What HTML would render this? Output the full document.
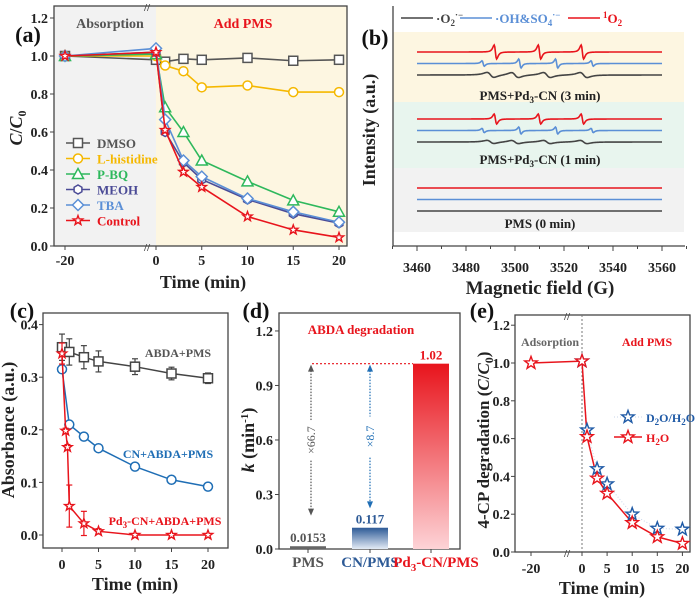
<!DOCTYPE html>
<html><head><meta charset="utf-8"><style>
html,body{margin:0;padding:0;background:#fff}
svg{display:block;font-family:"Liberation Serif",serif;font-weight:bold}
</style></head><body>
<svg id="fig" width="700" height="604" viewBox="0 0 700 604" xmlns="http://www.w3.org/2000/svg">
<defs>
<linearGradient id="gCN" x1="0" y1="0" x2="0" y2="1"><stop offset="0" stop-color="#2d5a96"/><stop offset="1" stop-color="#e3ebf5"/></linearGradient>
<linearGradient id="gPd" x1="0" y1="0" x2="0" y2="1"><stop offset="0" stop-color="#e8141c"/><stop offset="1" stop-color="#fdd3d6"/></linearGradient>
</defs>
</svg>
<script>
// ---------- DATA ----------
const aTimes=[-20,0,1,3,5,10,15,20];
const aNames=["DMSO","L-histidine","P-BQ","MEOH","TBA","Control"];
const aDMSO=[1,0.98,0.97,0.985,0.98,0.99,0.975,0.98];
const aLhis=[1,1.0,0.95,0.92,0.835,0.845,0.81,0.81];
const aPBQ=[1,1.01,0.73,0.6,0.45,0.34,0.24,0.18];
const aMEOH=[1,1.02,0.6,0.44,0.35,0.245,0.17,0.12];
const aTBA=[1,1.04,0.665,0.45,0.365,0.25,0.18,0.125];
const aCtrl=[1,1.02,0.61,0.39,0.31,0.155,0.085,0.045];
const aYTicks=[0,0.2,0.4,0.6,0.8,1.0,1.2];
const aXTicks=[-20,0,5,10,15,20];

const bXTicks=[3460,3480,3500,3520,3540,3560];
const bRedPeaks=[3492,3510,3527.5];
const bBluePeaks=[3487,3502,3517,3531.5];
const bBluePk=[0.6,1,1,0.6];
const bBlackPeaks=[3490,3500,3513,3528];
const bAmp3=[7,4.5,2.5];
const bAmp1=[5,3.5,1.6];

const cTimes=[0,1,3,5,10,15,20];
const cABDA=[0.357,0.348,0.338,0.33,0.32,0.307,0.298];
const cABDAerr=[0.025,0.025,0.022,0.02,0.015,0.012,0.01];
const cCN=[0.315,0.21,0.187,0.165,0.13,0.105,0.092];
const cPdTimes=[0,0.5,0.75,1,3,5,10,15,20];
const cPd=[0.345,0.198,0.167,0.055,0.022,0.007,0,0,0];
const cPdErr=[0.02,0.005,0.005,0.04,0.023,0.005,0,0,0];
const cYTicks=[0,0.1,0.2,0.3,0.4];
const cXTicks=[0,5,10,15,20];

const dCats=["PMS","CN/PMS","Pd3-CN/PMS"];
const dVals=[0.0153,0.117,1.02];
const dLabels=["0.0153","0.117","1.02"];
const dYTicks=[0,0.3,0.6,0.9,1.2];
const dArrowEnds=[0.2,0.24];

const eTimes=[-20,0,1,3,5,10,15,20];
const eH2O=[1,1.01,0.61,0.39,0.31,0.155,0.08,0.045];
const eD2O=[null,1.01,0.645,0.44,0.36,0.2,0.125,0.12];
const eYTicks=[0,0.2,0.4,0.6,0.8,1.0,1.2];
const eXTicks=[-20,0,5,10,15,20];

// ---------- helpers ----------
const S=document.getElementById('fig');
const NS="http://www.w3.org/2000/svg";
function mk(tag,attrs,parent){const e=document.createElementNS(NS,tag);for(const k in attrs)e.setAttribute(k,attrs[k]);(parent||S).appendChild(e);return e;}
function txt(x,y,s,size,fill,anchor,extra){const t=mk('text',Object.assign({x:x,y:y,'font-size':size,fill:fill||'#222','text-anchor':anchor||'middle'},extra||{}));t.innerHTML=s;return t;}
function marker(type,x,y,col,r){
 r=r||5;let e;
 if(type==='sq')e=mk('rect',{x:x-r,y:y-r,width:2*r,height:2*r,fill:'#fff',stroke:col,'stroke-width':1.5});
 else if(type==='ci')e=mk('circle',{cx:x,cy:y,r:r,fill:'#fff',stroke:col,'stroke-width':1.5});
 else if(type==='tr')e=mk('polygon',{points:`${x},${y-r-1} ${x+r+1},${y+r} ${x-r-1},${y+r}`,fill:'#fff',stroke:col,'stroke-width':1.5});
 else if(type==='hx'){let p=[];for(let i=0;i<6;i++){const a=Math.PI/3*i+Math.PI/6;p.push((x+r*Math.cos(a))+','+(y+r*Math.sin(a)));}e=mk('polygon',{points:p.join(' '),fill:'#fff',stroke:col,'stroke-width':1.5});}
 else if(type==='di')e=mk('polygon',{points:`${x},${y-r-1} ${x+r+1},${y} ${x},${y+r+1} ${x-r-1},${y}`,fill:'#fff',stroke:col,'stroke-width':1.5});
 else {let p=[];for(let i=0;i<10;i++){const rr=i%2?r*0.45:r*1.1;const a=-Math.PI/2+Math.PI/5*i;p.push((x+rr*Math.cos(a))+','+(y+rr*Math.sin(a)));}e=mk('polygon',{points:p.join(' '),fill:'#fff',stroke:col,'stroke-width':1.4});}
 return e;
}
function poly(pts,col,w,extra){return mk('polyline',Object.assign({points:pts.map(p=>p.join(',')).join(' '),fill:'none',stroke:col,'stroke-width':w||1.5},extra||{}));}
function frame(x1,y1,x2,y2){return mk('rect',{x:x1,y:y1,width:x2-x1,height:y2-y1,fill:'none',stroke:'#444','stroke-width':1.3});}

// ================= PANEL A =================
const xa=t=>t<0?65+(t+20)/20*91:156+t*9.15;
const ya=v=>246-v*190;
let e;
e=mk('rect',{x:54,y:6,width:102,height:240,fill:'#f2f2f2'});


e=mk('rect',{x:156,y:6,width:191,height:240,fill:'#fdf6e1'});


e=frame(54,6,347,246);


aYTicks.forEach(v=>{mk('line',{x1:50,x2:54,y1:ya(v),y2:ya(v),stroke:'#444'});
 e=txt(48,ya(v)+5,v.toFixed(1),14,'#222','end');
 
 });
aXTicks.forEach(v=>{mk('line',{x1:xa(v),x2:xa(v),y1:246,y2:250,stroke:'#444'});
 e=txt(xa(v),265,String(v),14);
 
 });
txt(147,11,'//',11,'#444');txt(147,251,'//',11,'#444');
e=txt(203,288,'Time (min)',18);


e=txt(0,0,'<tspan font-style="italic">C</tspan>/<tspan font-style="italic">C</tspan><tspan font-size="12" dy="4">0</tspan>',18,'#222','middle',{transform:'translate(22,128) rotate(-90)'});


e=txt(110,28,'Absorption',14,'#555');


e=txt(243,28,'Add PMS',14,'#e8141c');


e=txt(28,42,'(a)',22,'#111');


const aSeries=[aDMSO,aLhis,aPBQ,aMEOH,aTBA,aCtrl];
const aCols=['#555555','#f5b800','#2eb85c','#4b4b96','#5b8fd6','#e8141c'];
const aMk=['sq','ci','tr','hx','di','st'];
aSeries.forEach((s,i)=>{
 const pts=aTimes.map((t,j)=>[xa(t),ya(s[j])]);
 e=poly(pts,aCols[i],1.6);
 
 
 pts.forEach(p=>{e=marker(aMk[i],p[0],p[1],aCols[i],4.5);
  
  });
 const ly=143+i*15.5;
 mk('line',{x1:66,x2:90,y1:ly,y2:ly,stroke:aCols[i],'stroke-width':1.6});
 marker(aMk[i],78,ly,aCols[i],4.5);
 e=txt(97,ly+5,aNames[i],13,i==0?'#555':aCols[i],'start');
 
 
});

// ================= PANEL B =================
const xb=g=>417+(g-3460)*2.45;
[[32,102,'#fdf6e1'],[102,168,'#e8f5ee'],[168,232,'#f2f2f2']].forEach((b,i)=>{
 e=mk('rect',{x:393,y:b[0],width:291,height:b[1]-b[0],fill:b[2]});
 
 });
mk('line',{x1:393,y1:6,x2:393,y2:246,stroke:'#444','stroke-width':1.3});
mk('line',{x1:393,y1:246,x2:685,y2:246,stroke:'#444','stroke-width':1.3});
bXTicks.forEach(v=>{mk('line',{x1:xb(v),x2:xb(v),y1:246,y2:251,stroke:'#444'});
 e=txt(xb(v),272,String(v),14);
 
 });
for(let g=3450;g<=3570;g+=10){if(g%20)mk('line',{x1:xb(g),x2:xb(g),y1:246,y2:249,stroke:'#444'});}
e=txt(540,294,'Magnetic field (G)',19);


e=txt(0,0,'Intensity (a.u.)',18,'#222','middle',{transform:'translate(375,130) rotate(-90)'});


e=txt(375,45,'(b)',22,'#111');


function lor(g,c,w){const u=(g-c)/w;return -u/Math.pow(1+u*u,2)/0.325;}
function trace(base,col,peaks,amps,w){
 const pts=[];for(let g=3460;g<=3560;g+=0.25){let v=0;peaks.forEach((c,k)=>v+=amps[k]*lor(g,c,w));pts.push([xb(g),base-v]);}
 return poly(pts,col,1.6);}
function spectrum(yRed,amps,label,ly,tag){
 e=trace(yRed,'#e8141c',bRedPeaks,bRedPeaks.map(()=>amps[0]),0.9);
 
 
 e=trace(yRed+11.5,'#5b8fd6',bBluePeaks,bBluePk.map(p=>p*amps[1]),0.8);
 
 
 e=trace(yRed+23,'#444',bBlackPeaks,bBlackPeaks.map(()=>amps[2]),2.5);
 
 
 e=txt(540,ly,label,13);
 
 
}
spectrum(52,bAmp3,'PMS+Pd<tspan font-size="9" dy="3">3</tspan><tspan dy="-3">-CN (3 min)</tspan>',100,'3min');
spectrum(119,bAmp1,'PMS+Pd<tspan font-size="9" dy="3">3</tspan><tspan dy="-3">-CN (1 min)</tspan>',164,'1min');
spectrum(188,[0,0,0],'PMS (0 min)',228,'0min');
[[433,'#444','·O<tspan font-size="9" dy="3">2</tspan><tspan font-size="9" dy="-8">·−</tspan>',458],
 [492,'#5b8fd6','·OH&amp;SO<tspan font-size="9" dy="3">4</tspan><tspan font-size="9" dy="-8">·−</tspan>',529],
 [600,'#e8141c','<tspan font-size="9" dy="-5">1</tspan><tspan dy="5">O</tspan><tspan font-size="9" dy="3">2</tspan>',627]].forEach(l=>{
 mk('line',{x1:l[0]-32,x2:l[0],y1:18,y2:18,stroke:l[1],'stroke-width':1.6});
 e=txt(l[0]+3,23,l[2],13,l[1],'start');
 
 });

// ================= PANEL C =================
const xc=t=>62+t*7.3;
const yc=v=>535-v*526;
e=frame(43,313,228,548);


cYTicks.forEach(v=>{mk('line',{x1:39,x2:43,y1:yc(v),y2:yc(v),stroke:'#444'});
 e=txt(38,yc(v)+5,v.toFixed(1),14,'#222','end');
 
 });
cXTicks.forEach(v=>{mk('line',{x1:xc(v),x2:xc(v),y1:548,y2:552,stroke:'#444'});
 e=txt(xc(v),569,String(v),14);
 
 });
e=txt(135,590,'Time (min)',18);


e=txt(0,0,'Absorbance (a.u.)',18,'#222','middle',{transform:'translate(14,430) rotate(-90)'});


e=txt(22,318,'(c)',22,'#111');


function errbar(x,y1,y2,col){mk('line',{x1:x,x2:x,y1:y1,y2:y2,stroke:col,'stroke-width':1.2});mk('line',{x1:x-3,x2:x+3,y1:y1,y2:y1,stroke:col,'stroke-width':1.2});mk('line',{x1:x-3,x2:x+3,y1:y2,y2:y2,stroke:col,'stroke-width':1.2});}
function cSeries(ts,vs,errs,col,mt,name){
 const pts=ts.map((t,j)=>[xc(t),yc(vs[j])]);
 e=poly(pts,col,1.5);
 
 
 pts.forEach((p,j)=>{if(errs&&errs[j])errbar(p[0],yc(vs[j]+errs[j]),yc(vs[j]-errs[j]),col);
  e=marker(mt,p[0],p[1],col,4.5);
  
  });
}
cSeries(cTimes,cABDA,cABDAerr,'#444','sq','abda-pms');
cSeries(cTimes,cCN,null,'#1f6eb5','ci','cn-abda-pms');
cSeries(cPdTimes,cPd,cPdErr,'#e8141c','st','pd3cn-abda-pms');
e=txt(178,357,'ABDA+PMS',12,'#555');


e=txt(168,458,'CN+ABDA+PMS',12,'#1f6eb5');


e=txt(165,525,'Pd<tspan font-size="9" dy="3">3</tspan><tspan dy="-3">-CN+ABDA+PMS</tspan>',12,'#e8141c');



// ================= PANEL D =================
const yd=v=>549-v*181.7;
const dCx=[308,370,431];
const dFill=['#666','url(#gCN)','url(#gPd)'];
const dCol=['#555','#2d5a96','#e8141c'];
e=frame(279,313,460,549);


dYTicks.forEach(v=>{mk('line',{x1:275,x2:279,y1:yd(v),y2:yd(v),stroke:'#444'});
 e=txt(273,yd(v)+5,v.toFixed(1),14,'#222','end');
 
 });
dVals.forEach((v,i)=>{
 e=mk('rect',{x:dCx[i]-18,y:yd(v),width:36,height:549-yd(v),fill:dFill[i]});
 
 
 e=txt(dCx[i],yd(v)-4,dLabels[i],13,dCol[i]);
 
 
 mk('line',{x1:dCx[i],x2:dCx[i],y1:549,y2:553,stroke:'#444'});
});
['PMS','CN/PMS','Pd<tspan font-size="11" dy="4">3</tspan><tspan dy="-4">-CN/PMS</tspan>'].forEach((s,i)=>{
 e=txt(dCx[i]+(i==2?5:0),567,s,15,dCol[i]);
 
 });
e=txt(0,0,'<tspan font-style="italic">k</tspan> (min<tspan font-size="11" dy="-6">-1</tspan><tspan dy="6">)</tspan>',18,'#222','middle',{transform:'translate(254,440) rotate(-90)'});


e=txt(256,318,'(d)',22,'#111');


e=txt(361,334,'ABDA degradation',13,'#e8141c');


mk('line',{x1:312,x2:dCx[2]-18,y1:yd(dVals[2]),y2:yd(dVals[2]),stroke:'#e8141c','stroke-width':1.2,'stroke-dasharray':'2,2'});
[[311,dArrowEnds[0],'#555','×66.7'],[370,dArrowEnds[1],'#1f6eb5','×8.7']].forEach((a,i)=>{
 const yt=yd(dVals[2])+4,yb=yd(a[1]);
 e=mk('line',{x1:a[0],x2:a[0],y1:yt,y2:yb,stroke:a[2],'stroke-width':1.2,'stroke-dasharray':'1.5,1.5'});
 
 
 mk('polygon',{points:`${a[0]},${yt-3} ${a[0]-3},${yt+4} ${a[0]+3},${yt+4}`,fill:a[2]});
 mk('polygon',{points:`${a[0]},${yb+3} ${a[0]-3},${yb-4} ${a[0]+3},${yb-4}`,fill:a[2]});
 const my=(yt+yb)/2;
 mk('rect',{x:a[0]-7,y:my-20,width:14,height:40,fill:'#fff'});
 e=txt(0,0,a[3],12,a[2],'middle',{transform:`translate(${a[0]+4},${my}) rotate(-90)`,'font-weight':'normal'});
 
 
});

// ================= PANEL E =================
const xe=t=>t<0?531+(t+20)*2.55:582+t*5.02;
const ye=v=>552-v*189;
e=frame(515,315,690,552);


mk('line',{x1:582,x2:582,y1:315,y2:552,stroke:'#777','stroke-width':1,'stroke-dasharray':'2,2'});
txt(567,320,'//',11,'#444');txt(567,557,'//',11,'#444');
eYTicks.forEach(v=>{mk('line',{x1:511,x2:515,y1:ye(v),y2:ye(v),stroke:'#444'});
 e=txt(510,ye(v)+5,v.toFixed(1),14,'#222','end');
 
 });
eXTicks.forEach(v=>{mk('line',{x1:xe(v),x2:xe(v),y1:552,y2:556,stroke:'#444'});
 e=txt(xe(v),573,String(v),14);
 
 });
e=txt(602,594,'Time (min)',18);


e=txt(0,0,'4-CP degradation (<tspan font-style="italic">C</tspan>/<tspan font-style="italic">C</tspan><tspan font-size="12" dy="4">0</tspan><tspan dy="-4">)</tspan>',17,'#222','middle',{transform:'translate(489,440) rotate(-90)'});


e=txt(482,318,'(e)',22,'#111');


e=txt(550,346,'Adsorption',12,'#666');


e=txt(647,346,'Add PMS',12,'#e8141c');


const d2pts=[];eTimes.forEach((t,j)=>{if(eD2O[j]!=null)d2pts.push([xe(t),ye(eD2O[j])]);});
e=poly(d2pts,'#c8d6ea',1,{'stroke-dasharray':'1,2'});


const hpts=eTimes.map((t,j)=>[xe(t),ye(eH2O[j])]);
e=poly(hpts,'#e8141c',1.5);


d2pts.forEach(p=>{e=marker('st',p[0],p[1],'#1f5aa6',6);
 
 });
hpts.forEach(p=>{e=marker('st',p[0],p[1],'#e8141c',6);
 
 });
mk('line',{x1:614,x2:642,y1:417,y2:417,stroke:'#c8d6ea','stroke-dasharray':'1,2'});
marker('st',628,417,'#1f5aa6',6);
e=txt(646,422,'D<tspan font-size="9" dy="3">2</tspan><tspan dy="-3">O/H</tspan><tspan font-size="9" dy="3">2</tspan><tspan dy="-3">O</tspan>',12,'#1f5aa6','start');


mk('line',{x1:614,x2:642,y1:437,y2:437,stroke:'#e8141c','stroke-width':1.5});
marker('st',628,437,'#e8141c',6);
e=txt(646,442,'H<tspan font-size="9" dy="3">2</tspan><tspan dy="-3">O</tspan>',12,'#e8141c','start');


</script>
</body></html>
